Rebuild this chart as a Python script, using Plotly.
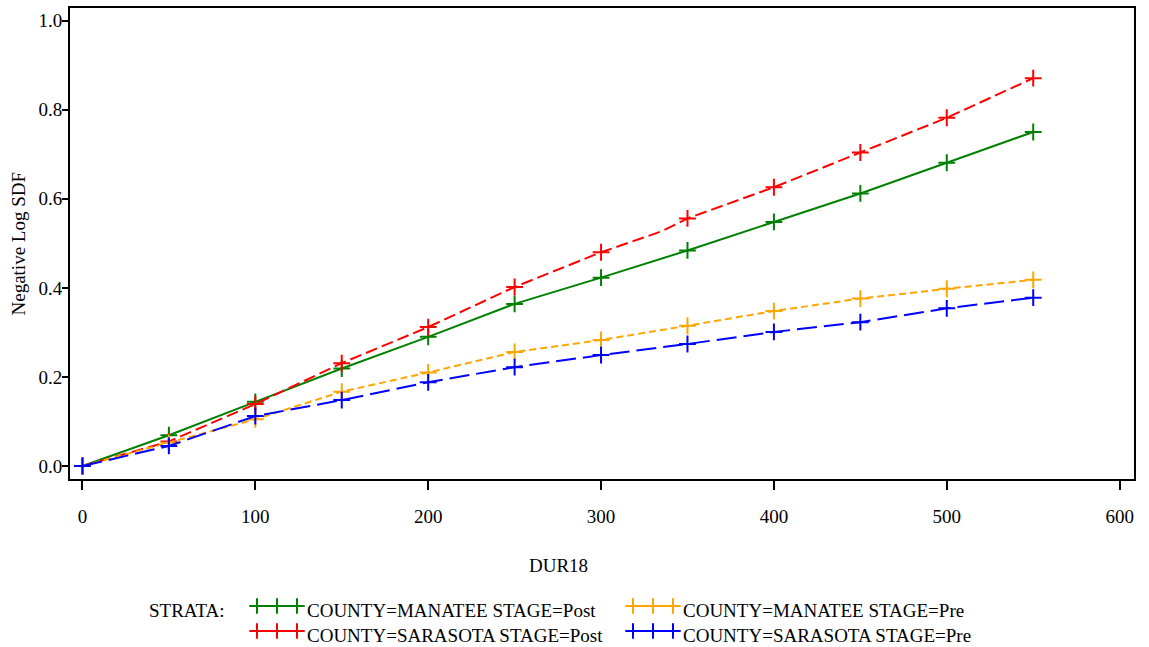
import plotly.graph_objects as go

# Survival time grid (days) at which the plotted estimates are marked
dur = [0, 50, 100, 150, 200, 250, 300, 350, 400, 450, 500, 550]

# Negative log survival estimates per stratum
manatee_post = [0.0, 0.069, 0.144, 0.219, 0.290, 0.364, 0.423, 0.484, 0.548, 0.612, 0.681, 0.750]
sarasota_post = [0.0, 0.055, 0.139, 0.231, 0.312, 0.402, 0.480, 0.556, 0.626, 0.704, 0.782, 0.871]
manatee_pre = [0.0, 0.052, 0.105, 0.167, 0.210, 0.256, 0.283, 0.315, 0.348, 0.376, 0.398, 0.418]
sarasota_pre = [0.0, 0.045, 0.112, 0.148, 0.188, 0.222, 0.249, 0.274, 0.301, 0.323, 0.354, 0.378]

# Extra event point on the Sarasota/Post curve between grid marks
sarasota_post_extra_t = [335]
sarasota_post_extra_v = [0.527]

strata_labels = [
    "COUNTY=MANATEE STAGE=Post",
    "COUNTY=SARASOTA STAGE=Post",
    "COUNTY=MANATEE STAGE=Pre",
    "COUNTY=SARASOTA STAGE=Pre",
]
x_ticks = [0, 100, 200, 300, 400, 500, 600]
y_ticks = [0.0, 0.2, 0.4, 0.6, 0.8, 1.0]

W, H = 1149, 647
FONT = "Liberation Serif"
FS = 19

# plot frame in figure pixels
PL, PR, PT, PB = 70, 1134, 8, 479

colors = ["#008000", "#FF0000", "#FFA500", "#0000FF"]
dashes = ["solid", "12px,5px", "7px,4px", "20px,7px"]


def merged(t, v, et, ev):
    pts = sorted(list(zip(t, v)) + list(zip(et, ev)))
    return [p[0] for p in pts], [p[1] for p in pts]


curves = [
    (dur, manatee_post),
    merged(dur, sarasota_post, sarasota_post_extra_t, sarasota_post_extra_v),
    (dur, manatee_pre),
    (dur, sarasota_pre),
]
marks = [manatee_post, sarasota_post, manatee_pre, sarasota_pre]

fig = go.Figure()

for i in range(4):
    cx, cy = curves[i]
    fig.add_trace(go.Scatter(
        x=cx, y=cy, mode="lines",
        line=dict(color=colors[i], width=2, dash=dashes[i]),
        showlegend=False, hoverinfo="skip",
    ))
    fig.add_trace(go.Scatter(
        x=dur, y=marks[i], mode="markers", name=strata_labels[i],
        marker=dict(symbol="cross-thin", size=12,
                    line=dict(color=colors[i], width=2)),
        showlegend=False,
    ))

# Legend block drawn on a full-figure overlay axis (pixel units)
legend_rows = [606, 631]     # sample line centre
legend_text_dy = 4.5         # text sits slightly lower than the sample line
legend_cols = [(257, 305), (633, 681)]
order = [(0, 0), (1, 0), (0, 1), (1, 1)]  # (row, col) per stratum
sample_w = 40
for i, (r, c) in enumerate(order):
    x0 = legend_cols[c][0]
    y0 = legend_rows[r]
    fig.add_trace(go.Scatter(
        x=[x0, x0 + sample_w / 2, x0 + sample_w], y=[y0, y0, y0],
        mode="lines+markers", xaxis="x2", yaxis="y2",
        line=dict(color=colors[i], width=2),
        marker=dict(symbol="cross-thin", size=11,
                    line=dict(color=colors[i], width=2)),
        showlegend=False, hoverinfo="skip",
    ))
    fig.add_annotation(
        x=legend_cols[c][1] / W, y=1 - (y0 + legend_text_dy) / H,
        xref="paper", yref="paper",
        text=strata_labels[i], showarrow=False, xanchor="left", yanchor="middle",
        font=dict(family=FONT, size=FS, color="black"),
    )

fig.add_annotation(
    x=147 / W, y=1 - (legend_rows[0] + legend_text_dy) / H, xref="paper", yref="paper",
    text="STRATA:", showarrow=False, xanchor="left", yanchor="middle",
    font=dict(family=FONT, size=FS, color="black"),
)

# axis titles
fig.add_annotation(
    x=558 / W, y=1 - 565.5 / H, xref="paper", yref="paper", text="DUR18",
    showarrow=False, xanchor="center", yanchor="middle",
    font=dict(family=FONT, size=FS, color="black"),
)
fig.add_annotation(
    x=18 / W, y=1 - ((PT + PB) / 2) / H, xref="paper", yref="paper",
    text="Negative Log SDF",
    showarrow=False, textangle=-90, xanchor="center", yanchor="middle",
    font=dict(family=FONT, size=FS, color="black"),
)

fig.update_layout(
    width=W, height=H,
    margin=dict(l=0, r=0, t=0, b=0),
    paper_bgcolor="white", plot_bgcolor="rgba(0,0,0,0)",
    font=dict(family=FONT, size=FS, color="black"),
    xaxis=dict(
        domain=[PL / W, PR / W], range=[-7.2, 608.3],
        tickvals=x_ticks, ticktext=[str(v) for v in x_ticks],
        ticks="outside", ticklen=9, tickwidth=2, tickcolor="black",
        ticklabelstandoff=10,
        showline=True, linewidth=2, linecolor="black", mirror=True,
        showgrid=False, zeroline=False,
    ),
    yaxis=dict(
        domain=[1 - PB / H, 1 - PT / H], range=[-0.0292, 1.0285],
        tickvals=y_ticks, ticktext=[f"{v:.1f}" for v in y_ticks],
        ticks="outside", ticklen=6, tickwidth=2, tickcolor="black",
        ticklabelstandoff=-4,
        showline=True, linewidth=2, linecolor="black", mirror=True,
        showgrid=False, zeroline=False,
    ),
    xaxis2=dict(domain=[0, 1], range=[0, W], visible=False, anchor="y2", fixedrange=True),
    yaxis2=dict(domain=[0, 1], range=[H, 0], visible=False, anchor="x2", fixedrange=True),
    showlegend=False,
)

fig.write_html("out.html")
